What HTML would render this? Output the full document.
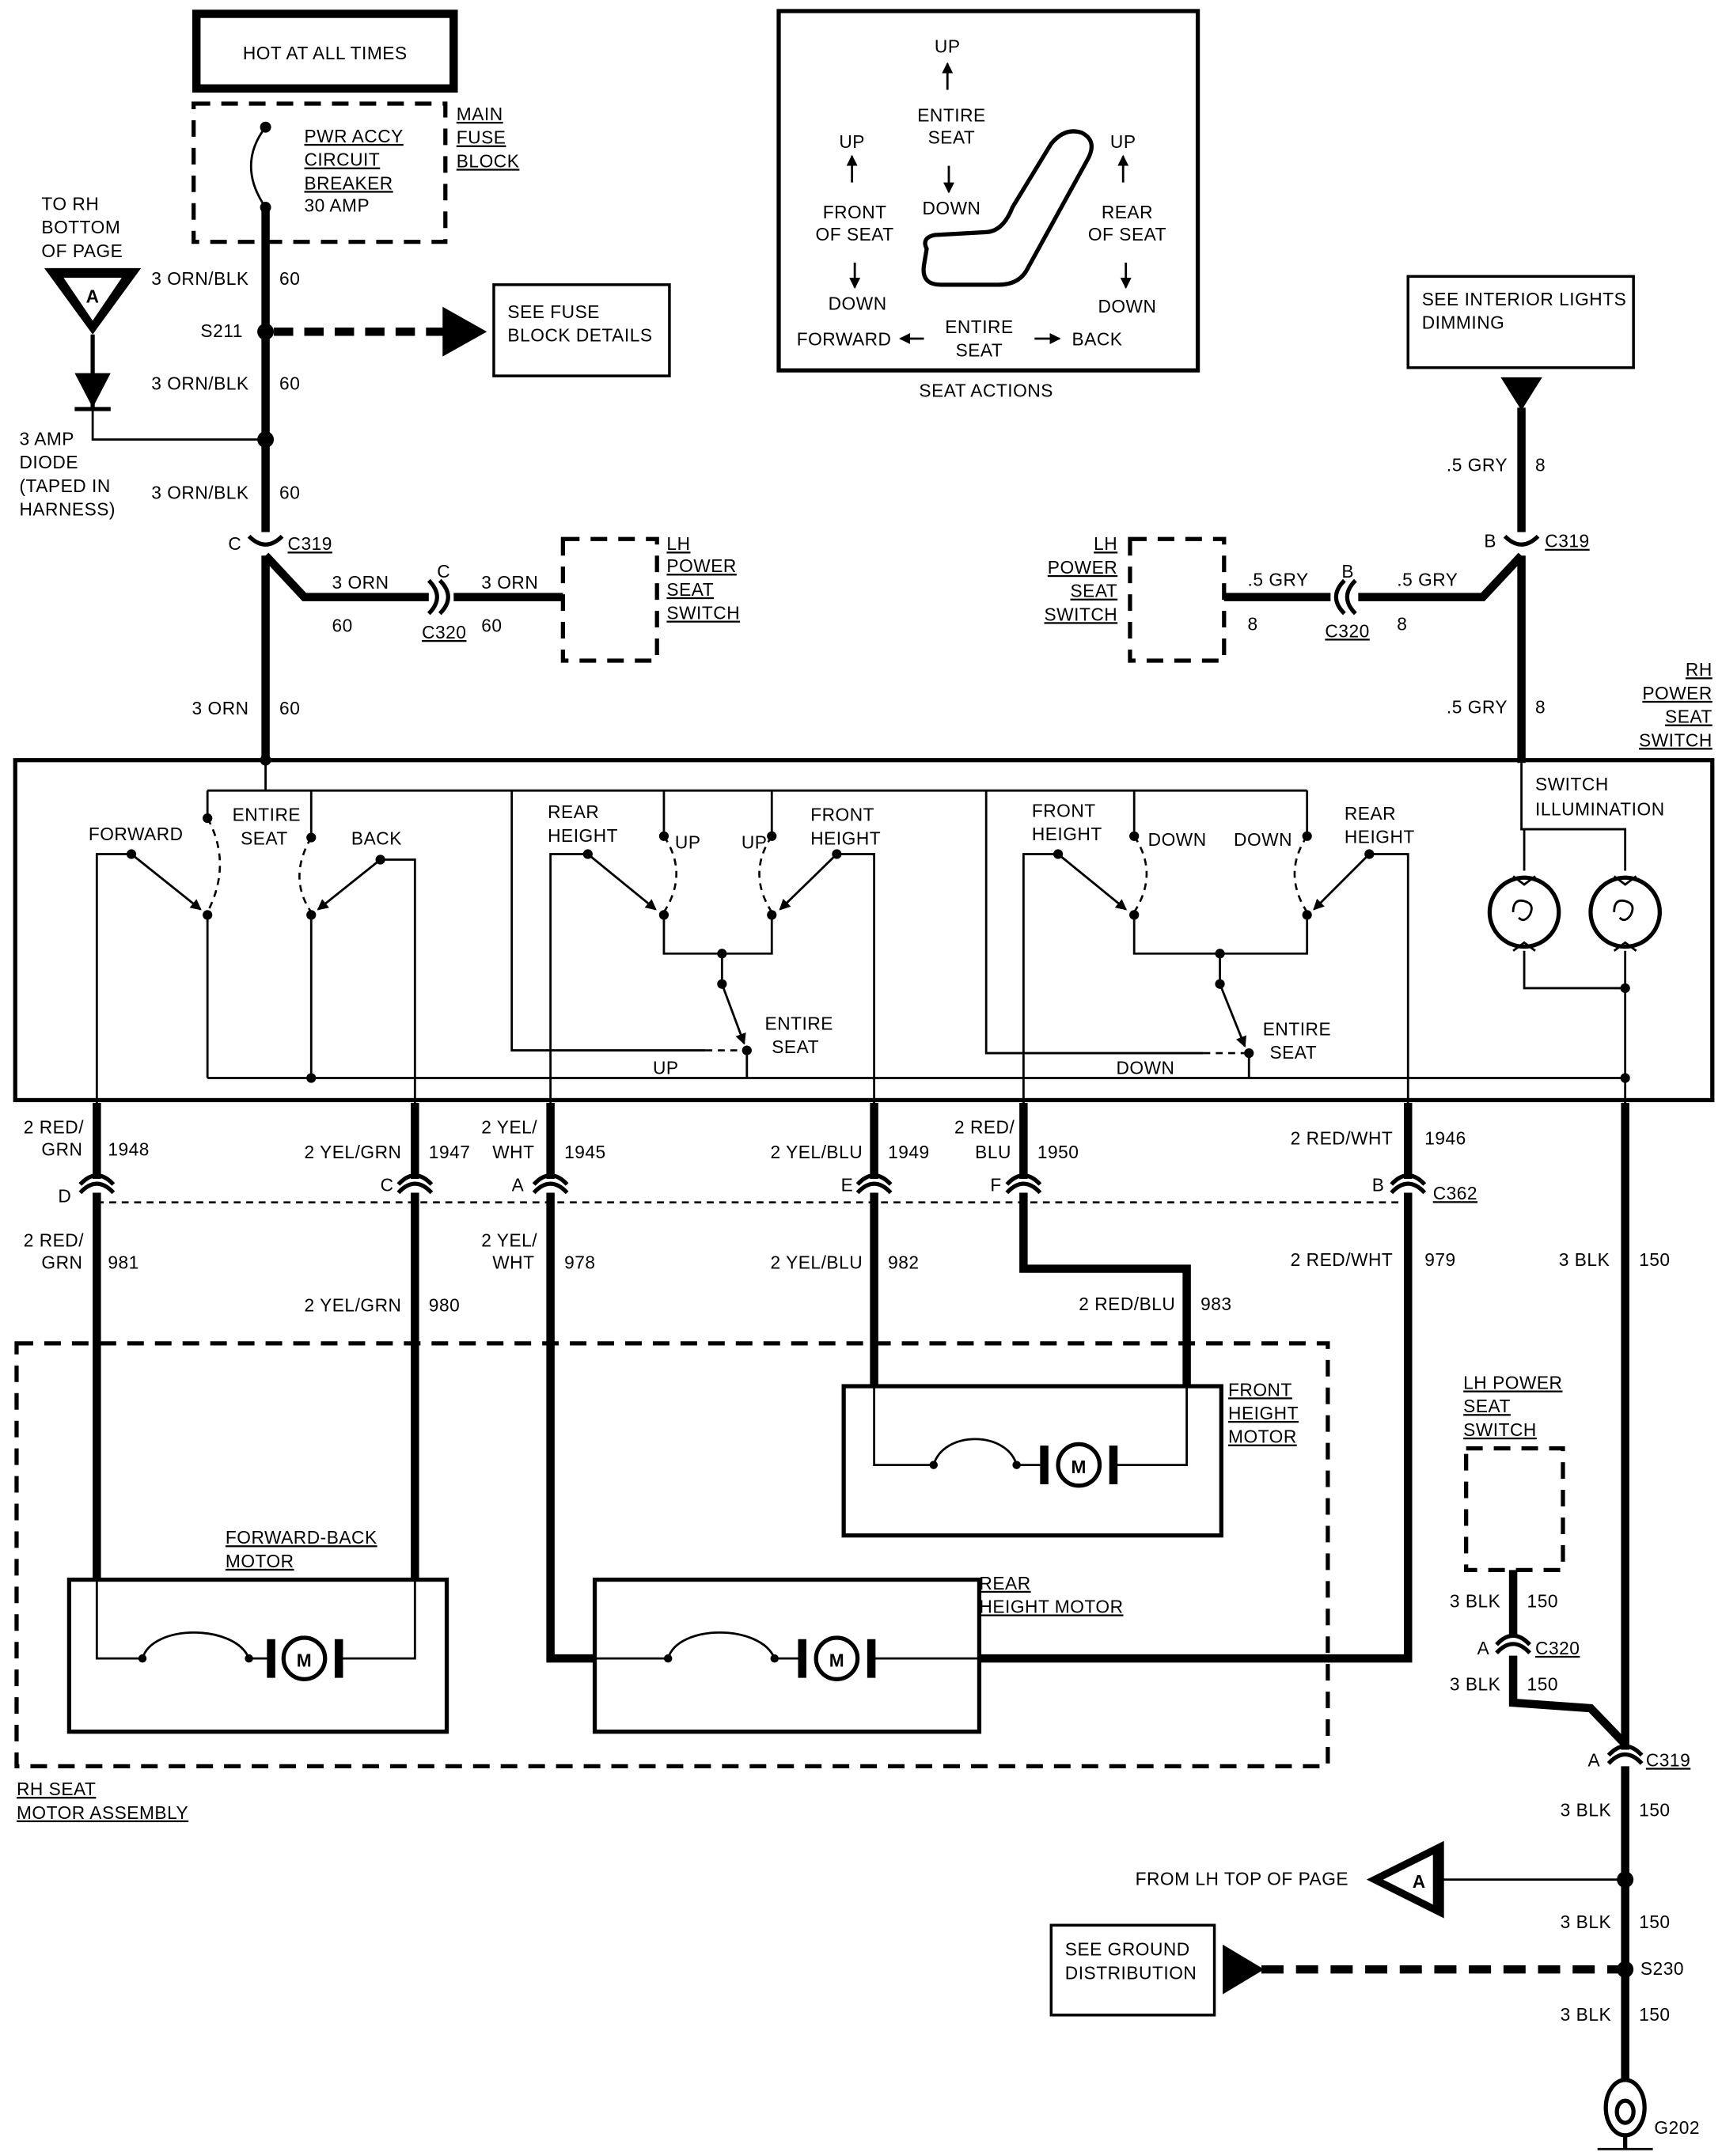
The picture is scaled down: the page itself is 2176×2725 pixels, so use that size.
<!DOCTYPE html>
<html><head><meta charset="utf-8"><style>
html,body{margin:0;padding:0;background:#fff;}
svg{display:block;}
text{font-family:"Liberation Sans",sans-serif;font-size:13px;fill:#000;letter-spacing:0.3px;}
.t{stroke:#000;stroke-width:6;fill:none;}
.n{stroke:#000;stroke-width:1.6;fill:none;}
.m{stroke:#000;stroke-width:3;fill:none;}
.d{stroke:#000;stroke-width:3;fill:none;stroke-dasharray:12,8;}
.dn{stroke:#000;stroke-width:1.5;fill:none;stroke-dasharray:5,4;}
.u{text-decoration:underline;}
</style></head><body>
<svg width="2176" height="2725" viewBox="0 0 1245 1560" preserveAspectRatio="none" xmlns="http://www.w3.org/2000/svg">
<defs>
<marker id="ah" markerWidth="8" markerHeight="8" refX="7" refY="4" orient="auto" markerUnits="userSpaceOnUse"><path d="M0,0 L8,4 L0,8 z" fill="#000"/></marker>
</defs>
<rect x="142" y="10" width="186" height="54" fill="none" stroke="#000" stroke-width="6"/>
<text x="235" y="43" text-anchor="middle">HOT AT ALL TIMES</text>
<rect x="140" y="75" width="182" height="100" class="d" stroke-width="2.5"/>
<path class="n" d="M192,92 C178,110 178,130 192,150"/>
<circle cx="192" cy="92" r="4"/><circle cx="192" cy="150" r="4"/>
<text x="220" y="103" class="u">PWR ACCY</text><text x="220" y="120" class="u">CIRCUIT</text><text x="220" y="137" class="u">BREAKER</text><text x="220" y="153">30 AMP</text>
<text x="330" y="87" class="u">MAIN</text><text x="330" y="104" class="u">FUSE</text><text x="330" y="121" class="u">BLOCK</text>
<line class="t" x1="192" y1="150" x2="192" y2="385"/>
<line class="t" x1="192" y1="402" x2="192" y2="552"/>
<text x="180" y="206" text-anchor="end">3 ORN/BLK</text><text x="202" y="206">60</text>
<circle cx="192" cy="240" r="6"/>
<text x="145" y="244">S211</text>
<line x1="198" y1="240" x2="322" y2="240" stroke="#000" stroke-width="6" stroke-dasharray="14,8"/>
<path d="M320,222 L352,240 L320,258 z" fill="#000"/>
<rect x="357" y="206" width="127" height="66" fill="none" stroke="#000" stroke-width="2"/>
<text x="367" y="230">SEE FUSE</text><text x="367" y="247">BLOCK DETAILS</text>
<text x="180" y="282" text-anchor="end">3 ORN/BLK</text><text x="202" y="282">60</text>
<circle cx="192" cy="318" r="6"/>
<text x="180" y="361" text-anchor="end">3 ORN/BLK</text><text x="202" y="361">60</text>
<text x="30" y="152">TO RH</text><text x="30" y="169">BOTTOM</text><text x="30" y="186">OF PAGE</text>
<path d="M32,194 L102,194 L67,242 z" fill="#000"/>
<path d="M46,201 L88,201 L67,232 z" fill="#fff"/>
<text x="67" y="219" text-anchor="middle" font-weight="bold" font-size="16">A</text>
<line class="m" x1="67" y1="242" x2="67" y2="296"/>
<path d="M54,270 L80,270 L67,295 z" fill="#000"/>
<line class="m" x1="54" y1="296" x2="80" y2="296"/>
<polyline class="n" points="67,296 67,318 192,318"/>
<text x="14" y="322">3 AMP</text><text x="14" y="339">DIODE</text><text x="14" y="356">(TAPED IN</text><text x="14" y="373">HARNESS)</text>
<path class="m" d="M180,388 Q192,400 204,388"/>
<text x="165" y="398">C</text><text x="208" y="398" class="u">C319</text>
<polyline class="t" points="192,402 220,432 310,432"/>
<path class="m" d="M318,420 Q330,432 318,444"/>
<path class="m" d="M310,420 Q322,432 310,444"/>
<line class="t" x1="328" y1="432" x2="407" y2="432"/>
<text x="240" y="426">3 ORN</text><text x="240" y="457">60</text>
<text x="316" y="418">C</text><text x="305" y="462" class="u">C320</text>
<text x="348" y="426">3 ORN</text><text x="348" y="457">60</text>
<rect x="407" y="390" width="68" height="88" class="d" stroke-width="2.5"/>
<text x="482" y="398" class="u">LH</text><text x="482" y="414" class="u">POWER</text><text x="482" y="431" class="u">SEAT</text><text x="482" y="448" class="u">SWITCH</text>
<text x="180" y="517" text-anchor="end">3 ORN</text><text x="202" y="517">60</text>
<rect x="563" y="8" width="303" height="260" fill="none" stroke="#000" stroke-width="3"/>
<text x="685" y="38" text-anchor="middle">UP</text>
<line class="n" x1="685" y1="65" x2="685" y2="46" marker-end="url(#ah)"/>
<text x="688" y="88" text-anchor="middle">ENTIRE</text><text x="688" y="104" text-anchor="middle">SEAT</text>
<line class="n" x1="686" y1="120" x2="686" y2="139" marker-end="url(#ah)"/>
<text x="688" y="155" text-anchor="middle">DOWN</text>
<text x="616" y="107" text-anchor="middle">UP</text>
<line class="n" x1="616" y1="132" x2="616" y2="113" marker-end="url(#ah)"/>
<text x="618" y="158" text-anchor="middle">FRONT</text><text x="618" y="174" text-anchor="middle">OF SEAT</text>
<line class="n" x1="618" y1="190" x2="618" y2="208" marker-end="url(#ah)"/>
<text x="620" y="224" text-anchor="middle">DOWN</text>
<text x="812" y="107" text-anchor="middle">UP</text>
<line class="n" x1="812" y1="132" x2="812" y2="113" marker-end="url(#ah)"/>
<text x="815" y="158" text-anchor="middle">REAR</text><text x="815" y="174" text-anchor="middle">OF SEAT</text>
<line class="n" x1="814" y1="190" x2="814" y2="208" marker-end="url(#ah)"/>
<text x="815" y="226" text-anchor="middle">DOWN</text>
<text x="576" y="250">FORWARD</text>
<line class="n" x1="668" y1="245" x2="651" y2="245" marker-end="url(#ah)"/>
<text x="708" y="241" text-anchor="middle">ENTIRE</text><text x="708" y="258" text-anchor="middle">SEAT</text>
<line class="n" x1="748" y1="245" x2="766" y2="245" marker-end="url(#ah)"/>
<text x="775" y="250">BACK</text>
<path class="m" d="M670,180 Q666,172 676,170 L712,168 Q725,168 732,150 L760,104 Q770,92 782,96 Q794,102 786,116 L742,196 Q736,206 722,206 L680,206 Q666,206 668,192 z"/>
<text x="713" y="287" text-anchor="middle">SEAT ACTIONS</text>
<rect x="1018" y="200" width="163" height="66" fill="none" stroke="#000" stroke-width="2"/>
<text x="1028" y="221">SEE INTERIOR LIGHTS</text><text x="1028" y="238">DIMMING</text>
<path d="M1085,273 L1115,273 L1100,297 z" fill="#000"/>
<line class="t" x1="1100" y1="295" x2="1100" y2="385"/>
<line class="t" x1="1100" y1="402" x2="1100" y2="552"/>
<text x="1090" y="341" text-anchor="end">.5 GRY</text><text x="1110" y="341">8</text>
<path class="m" d="M1088,388 Q1100,400 1112,388"/>
<text x="1073" y="396">B</text><text x="1117" y="396" class="u">C319</text>
<polyline class="t" points="1100,402 1072,432 982,432"/>
<path class="m" d="M972,420 Q960,432 972,444"/>
<path class="m" d="M980,420 Q968,432 980,444"/>
<line class="t" x1="962" y1="432" x2="885" y2="432"/>
<text x="1010" y="424">.5 GRY</text><text x="1010" y="456">8</text>
<text x="970" y="418">B</text><text x="958" y="461" class="u">C320</text>
<text x="902" y="424">.5 GRY</text><text x="902" y="456">8</text>
<rect x="817" y="390" width="68" height="88" class="d" stroke-width="2.5"/>
<text x="808" y="398" text-anchor="end" class="u">LH</text><text x="808" y="415" text-anchor="end" class="u">POWER</text><text x="808" y="432" text-anchor="end" class="u">SEAT</text><text x="808" y="449" text-anchor="end" class="u">SWITCH</text>
<text x="1090" y="516" text-anchor="end">.5 GRY</text><text x="1110" y="516">8</text>
<text x="1238" y="489" text-anchor="end" class="u">RH</text><text x="1238" y="506" text-anchor="end" class="u">POWER</text><text x="1238" y="523" text-anchor="end" class="u">SEAT</text><text x="1238" y="540" text-anchor="end" class="u">SWITCH</text>
<rect x="11" y="550" width="1227" height="246" fill="none" stroke="#000" stroke-width="3"/>
<line class="n" x1="150" y1="572" x2="945" y2="572"/>
<line class="n" x1="192" y1="552" x2="192" y2="572"/>
<circle cx="192" cy="550" r="4"/>
<text x="168" y="594">ENTIRE</text><text x="174" y="611">SEAT</text>
<text x="64" y="608">FORWARD</text><text x="254" y="611">BACK</text>
<line class="n" x1="150" y1="572" x2="150" y2="592"/><circle cx="150" cy="592" r="3.5"/>
<path class="dn" d="M150,592 Q168,625 150,660"/>
<line class="n" x1="225" y1="572" x2="225" y2="606"/><circle cx="225" cy="606" r="3.5"/>
<path class="dn" d="M225,606 Q208,635 225,660"/>
<circle cx="150" cy="662" r="3.5"/><circle cx="225" cy="662" r="3.5"/>
<polyline class="n" points="70,798 70,618 95,618"/><circle cx="95" cy="618" r="3.5"/>
<line class="n" x1="95" y1="618" x2="145" y2="658" marker-end="url(#ah)"/>
<polyline class="n" points="300,798 300,622 275,622"/><circle cx="275" cy="622" r="3.5"/>
<line class="n" x1="275" y1="622" x2="230" y2="658" marker-end="url(#ah)"/>
<line class="n" x1="150" y1="662" x2="150" y2="780"/>
<line class="n" x1="225" y1="662" x2="225" y2="780"/>
<line class="n" x1="150" y1="780" x2="1175" y2="780"/>
<text x="396" y="592">REAR</text><text x="396" y="609">HEIGHT</text>
<text x="586" y="594">FRONT</text><text x="586" y="611">HEIGHT</text>
<text x="488" y="614">UP</text><text x="536" y="614">UP</text>
<line class="n" x1="480" y1="572" x2="480" y2="605"/><circle cx="480" cy="605" r="3.5"/>
<path class="dn" d="M480,605 Q498,632 480,660"/>
<line class="n" x1="558" y1="572" x2="558" y2="605"/><circle cx="558" cy="605" r="3.5"/>
<path class="dn" d="M558,605 Q540,632 558,660"/>
<circle cx="480" cy="662" r="3.5"/><circle cx="558" cy="662" r="3.5"/>
<polyline class="n" points="398,798 398,618 425,618"/><circle cx="425" cy="618" r="3.5"/>
<line class="n" x1="425" y1="618" x2="474" y2="658" marker-end="url(#ah)"/>
<polyline class="n" points="632,798 632,618 605,618"/><circle cx="605" cy="618" r="3.5"/>
<line class="n" x1="605" y1="618" x2="564" y2="658" marker-end="url(#ah)"/>
<polyline class="n" points="480,662 480,690 558,690 558,662"/>
<line class="n" x1="522" y1="690" x2="522" y2="712"/><circle cx="522" cy="690" r="3.5"/><circle cx="522" cy="712" r="3.5"/>
<line class="n" x1="522" y1="712" x2="538" y2="755" marker-end="url(#ah)"/>
<polyline class="n" points="370,572 370,760 510,760"/>
<line class="dn" x1="510" y1="760" x2="540" y2="760"/>
<circle cx="540" cy="760" r="3.5"/><line class="n" x1="540" y1="760" x2="540" y2="780"/>
<text x="553" y="745">ENTIRE</text><text x="558" y="762">SEAT</text>
<text x="472" y="777">UP</text>
<text x="746" y="591">FRONT</text><text x="746" y="608">HEIGHT</text>
<text x="972" y="593">REAR</text><text x="972" y="610">HEIGHT</text>
<text x="830" y="612">DOWN</text><text x="892" y="612">DOWN</text>
<line class="n" x1="820" y1="572" x2="820" y2="605"/><circle cx="820" cy="605" r="3.5"/>
<path class="dn" d="M820,605 Q838,632 820,660"/>
<line class="n" x1="945" y1="572" x2="945" y2="605"/><circle cx="945" cy="605" r="3.5"/>
<path class="dn" d="M945,605 Q927,632 945,660"/>
<circle cx="820" cy="662" r="3.5"/><circle cx="945" cy="662" r="3.5"/>
<polyline class="n" points="740,798 740,618 765,618"/><circle cx="765" cy="618" r="3.5"/>
<line class="n" x1="765" y1="618" x2="814" y2="658" marker-end="url(#ah)"/>
<polyline class="n" points="1018,798 1018,618 990,618"/><circle cx="990" cy="618" r="3.5"/>
<line class="n" x1="990" y1="618" x2="950" y2="658" marker-end="url(#ah)"/>
<polyline class="n" points="820,662 820,690 945,690 945,662"/>
<line class="n" x1="882" y1="690" x2="882" y2="712"/><circle cx="882" cy="690" r="3.5"/><circle cx="882" cy="712" r="3.5"/>
<line class="n" x1="882" y1="712" x2="900" y2="757" marker-end="url(#ah)"/>
<polyline class="n" points="713,572 713,762 870,762"/>
<line class="dn" x1="870" y1="762" x2="903" y2="762"/>
<circle cx="903" cy="762" r="3.5"/><line class="n" x1="903" y1="762" x2="903" y2="780"/>
<text x="913" y="749">ENTIRE</text><text x="918" y="766">SEAT</text>
<text x="807" y="777">DOWN</text>
<text x="1110" y="572">SWITCH</text><text x="1110" y="590">ILLUMINATION</text>
<polyline class="n" points="1100,552 1100,600 1175,600 1175,630"/>
<line class="n" x1="1102" y1="600" x2="1102" y2="630"/>
<circle cx="1102" cy="660" r="25" class="m"/><circle cx="1175" cy="660" r="25" class="m"/>
<path class="n" d="M1094,660 Q1094,650 1102,652 Q1110,654 1106,662 Q1102,668 1098,664"/>
<path class="n" d="M1167,660 Q1167,650 1175,652 Q1183,654 1179,662 Q1175,668 1171,664"/>
<polyline class="n" points="1094,634 1102,640 1110,634"/><polyline class="n" points="1167,634 1175,640 1183,634"/>
<polyline class="n" points="1094,688 1102,682 1110,688"/><polyline class="n" points="1167,688 1175,682 1183,688"/>
<polyline class="n" points="1102,688 1102,715 1175,715"/>
<line class="n" x1="1175" y1="688" x2="1175" y2="798"/>
<circle cx="1175" cy="715" r="3.5"/><circle cx="1175" cy="780" r="3.5"/><circle cx="225" cy="780" r="3.5"/>
<line class="dn" x1="70" y1="870" x2="1018" y2="870"/>
<g class="t">
<line x1="70" y1="798" x2="70" y2="1143"/>
<line x1="300" y1="798" x2="300" y2="1143"/>
<polyline points="398,798 398,1200 430,1200"/>
<line x1="632" y1="798" x2="632" y2="1003"/>
<polyline points="740,798 740,918 858,918 858,1003"/>
<polyline points="1018,798 1018,1200 708,1200"/>
<line x1="1175" y1="798" x2="1175" y2="1266"/>
</g>
<g fill="#fff" stroke="none">
<rect x="60" y="853" width="20" height="10"/><rect x="290" y="853" width="20" height="10"/><rect x="388" y="853" width="20" height="10"/><rect x="622" y="853" width="20" height="10"/><rect x="730" y="853" width="20" height="10"/><rect x="1008" y="853" width="20" height="10"/>
</g>
<g class="m">
<path d="M58,863 Q70,850 82,863"/><path d="M58,857 Q70,844 82,857"/>
<path d="M288,863 Q300,850 312,863"/><path d="M288,857 Q300,844 312,857"/>
<path d="M386,863 Q398,850 410,863"/><path d="M386,857 Q398,844 410,857"/>
<path d="M620,863 Q632,850 644,863"/><path d="M620,857 Q632,844 644,857"/>
<path d="M728,863 Q740,850 752,863"/><path d="M728,857 Q740,844 752,857"/>
<path d="M1006,863 Q1018,850 1030,863"/><path d="M1006,857 Q1018,844 1030,857"/>
</g>
<text x="17" y="820">2 RED/</text><text x="30" y="836">GRN</text><text x="78" y="836">1948</text>
<text x="42" y="870">D</text>
<text x="17" y="902">2 RED/</text><text x="30" y="918">GRN</text><text x="78" y="918">981</text>
<text x="220" y="838">2 YEL/GRN</text><text x="310" y="838">1947</text><text x="275" y="862">C</text>
<text x="220" y="949">2 YEL/GRN</text><text x="310" y="949">980</text>
<text x="348" y="820">2 YEL/</text><text x="356" y="838">WHT</text><text x="408" y="838">1945</text><text x="370" y="862">A</text>
<text x="348" y="902">2 YEL/</text><text x="356" y="918">WHT</text><text x="408" y="918">978</text>
<text x="557" y="838">2 YEL/BLU</text><text x="642" y="838">1949</text><text x="608" y="862">E</text>
<text x="557" y="918">2 YEL/BLU</text><text x="642" y="918">982</text>
<text x="690" y="820">2 RED/</text><text x="705" y="838">BLU</text><text x="750" y="838">1950</text><text x="716" y="862">F</text>
<text x="780" y="948">2 RED/BLU</text><text x="868" y="948">983</text>
<text x="933" y="828">2 RED/WHT</text><text x="1030" y="828">1946</text><text x="992" y="862">B</text><text x="1036" y="868" class="u">C362</text>
<text x="933" y="916">2 RED/WHT</text><text x="1030" y="916">979</text>
<text x="1127" y="916">3 BLK</text><text x="1185" y="916">150</text>
<rect x="12" y="972" width="948" height="306" class="d" stroke-width="2.5"/>
<text x="12" y="1299" class="u">RH SEAT</text><text x="12" y="1316" class="u">MOTOR ASSEMBLY</text>
<rect x="50" y="1143" width="273" height="110" fill="none" stroke="#000" stroke-width="3"/>
<text x="163" y="1117" class="u">FORWARD-BACK</text><text x="163" y="1134" class="u">MOTOR</text>
<polyline class="n" points="70,1143 70,1200 103,1200"/>
<path class="n" d="M103,1200 C110,1175 170,1175 180,1200 L195,1200"/>
<circle cx="103" cy="1200" r="3"/><circle cx="180" cy="1200" r="3"/>
<line x1="196" y1="1186" x2="196" y2="1214" stroke="#000" stroke-width="6"/>
<circle cx="220" cy="1200" r="15" class="m" fill="#fff"/><text x="220" y="1206" text-anchor="middle" font-size="16" font-weight="bold">M</text>
<line x1="245" y1="1186" x2="245" y2="1214" stroke="#000" stroke-width="6"/>
<polyline class="n" points="245,1200 300,1200 300,1143"/>
<rect x="430" y="1143" width="278" height="110" fill="none" stroke="#000" stroke-width="3"/>
<text x="708" y="1150" class="u">REAR</text><text x="708" y="1167" class="u">HEIGHT MOTOR</text>
<polyline class="n" points="430,1200 483,1200"/>
<path class="n" d="M483,1200 C490,1175 550,1175 560,1200 L578,1200"/>
<circle cx="483" cy="1200" r="3"/><circle cx="560" cy="1200" r="3"/>
<line x1="580" y1="1186" x2="580" y2="1214" stroke="#000" stroke-width="6"/>
<circle cx="605" cy="1200" r="15" class="m" fill="#fff"/><text x="605" y="1206" text-anchor="middle" font-size="16" font-weight="bold">M</text>
<line x1="630" y1="1186" x2="630" y2="1214" stroke="#000" stroke-width="6"/>
<line class="n" x1="630" y1="1200" x2="708" y2="1200"/>
<rect x="610" y="1003" width="273" height="108" fill="none" stroke="#000" stroke-width="3"/>
<text x="888" y="1010" class="u">FRONT</text><text x="888" y="1027" class="u">HEIGHT</text><text x="888" y="1044" class="u">MOTOR</text>
<polyline class="n" points="632,1003 632,1060 675,1060"/>
<path class="n" d="M675,1060 C682,1035 728,1035 735,1060 L752,1060"/>
<circle cx="675" cy="1060" r="3"/><circle cx="735" cy="1060" r="3"/>
<line x1="755" y1="1046" x2="755" y2="1074" stroke="#000" stroke-width="6"/>
<circle cx="780" cy="1060" r="15" class="m" fill="#fff"/><text x="780" y="1066" text-anchor="middle" font-size="16" font-weight="bold">M</text>
<line x1="805" y1="1046" x2="805" y2="1074" stroke="#000" stroke-width="6"/>
<polyline class="n" points="805,1060 858,1060 858,1003"/>
<text x="1058" y="1005" class="u">LH POWER</text><text x="1058" y="1022" class="u">SEAT</text><text x="1058" y="1039" class="u">SWITCH</text>
<rect x="1060" y="1048" width="70" height="88" class="d" stroke-width="2.5"/>
<line class="t" x1="1094" y1="1136" x2="1094" y2="1184"/>
<path class="m" d="M1082,1196 Q1094,1183 1106,1196"/><path class="m" d="M1082,1190 Q1094,1177 1106,1190"/>
<polyline class="t" points="1094,1198 1094,1232 1150,1236 1175,1262"/>
<text x="1085" y="1163" text-anchor="end">3 BLK</text><text x="1104" y="1163">150</text>
<text x="1068" y="1197">A</text><text x="1110" y="1197" class="u">C320</text>
<text x="1085" y="1223" text-anchor="end">3 BLK</text><text x="1104" y="1223">150</text>
<path class="m" d="M1163,1276 Q1175,1263 1187,1276"/><path class="m" d="M1163,1270 Q1175,1257 1187,1270"/>
<text x="1148" y="1278">A</text><text x="1190" y="1278" class="u">C319</text>
<line class="t" x1="1175" y1="1278" x2="1175" y2="1505"/>
<text x="1165" y="1314" text-anchor="end">3 BLK</text><text x="1185" y="1314">150</text>
<circle cx="1175" cy="1360" r="6"/>
<line class="n" x1="1040" y1="1360" x2="1175" y2="1360"/>
<path d="M988,1360 L1044,1332 L1044,1388 z" fill="#000"/>
<path d="M1000,1360 L1036,1342 L1036,1378 z" fill="#fff"/>
<text x="1026" y="1366" text-anchor="middle" font-size="16" font-weight="bold">A</text>
<text x="975" y="1364" text-anchor="end">FROM LH TOP OF PAGE</text>
<text x="1165" y="1395" text-anchor="end">3 BLK</text><text x="1185" y="1395">150</text>
<circle cx="1175" cy="1425" r="6"/>
<text x="1186" y="1429">S230</text>
<line x1="912" y1="1425" x2="1170" y2="1425" stroke="#000" stroke-width="6" stroke-dasharray="16,9"/>
<path d="M884,1407 L914,1425 L884,1443 z" fill="#000"/>
<rect x="760" y="1393" width="118" height="65" fill="none" stroke="#000" stroke-width="2"/>
<text x="770" y="1415">SEE GROUND</text><text x="770" y="1432">DISTRIBUTION</text>
<text x="1165" y="1462" text-anchor="end">3 BLK</text><text x="1185" y="1462">150</text>
<ellipse cx="1175" cy="1525" rx="14" ry="20" class="m" stroke-width="5"/>
<ellipse cx="1175" cy="1528" rx="6" ry="8" class="m"/>
<line class="m" x1="1175" y1="1545" x2="1175" y2="1555"/>
<line class="n" x1="1155" y1="1555" x2="1195" y2="1555"/>
<text x="1196" y="1544">G202</text>
</svg>
</body></html>
